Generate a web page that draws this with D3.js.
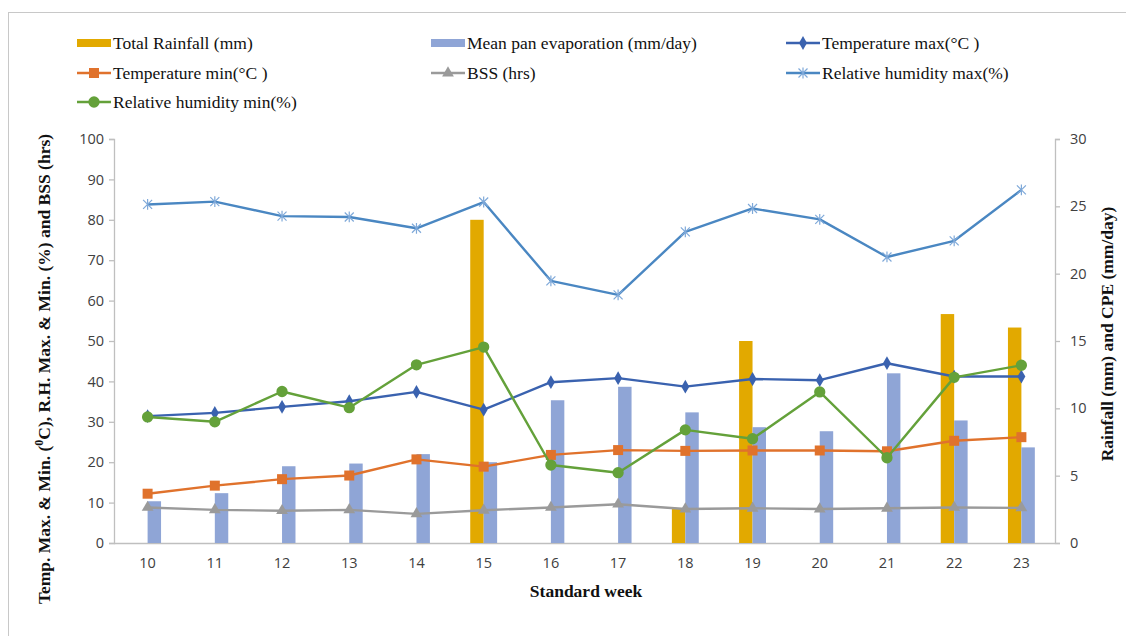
<!DOCTYPE html>
<html>
<head>
<meta charset="utf-8">
<script src="https://cdn.jsdelivr.net/npm/d3@7"></script>
<style>
  html, body { margin: 0; padding: 0; background: #fff; }
  svg { display: block; }
</style>
</head>
<body>
<svg id="chart" width="1126" height="636"></svg>
<script>
// Standard weeks on the category axis
const weeks = [10, 11, 12, 13, 14, 15, 16, 17, 18, 19, 20, 21, 22, 23];

// Secondary axis series (bars)
const rainfall    = [0, 0, 0, 0, 0, 24.0, 0, 0, 2.6, 15.0, 0, 0, 17.0, 16.0];
const evaporation = [3.1, 3.7, 5.7, 5.9, 6.6, 6.0, 10.6, 11.6, 9.7, 8.6, 8.3, 12.6, 9.1, 7.1];

// Primary axis series (lines)
const tempMax = [31.4, 32.2, 33.7, 35.1, 37.4, 33.0, 39.8, 40.8, 38.7, 40.6, 40.3, 44.5, 41.2, 41.2];
const tempMin = [12.2, 14.2, 15.8, 16.7, 20.7, 18.9, 21.8, 23.0, 22.8, 22.9, 22.9, 22.7, 25.3, 26.2];
const bss     = [8.8, 8.2, 8.0, 8.2, 7.2, 8.1, 8.8, 9.6, 8.4, 8.6, 8.4, 8.6, 8.8, 8.7];
const rhMax   = [83.8, 84.5, 80.9, 80.7, 77.9, 84.4, 64.9, 61.4, 77.0, 82.8, 80.1, 70.8, 74.8, 87.4];
const rhMin   = [31.2, 30.0, 37.5, 33.5, 44.1, 48.5, 19.3, 17.4, 28.0, 25.8, 37.4, 21.1, 41.0, 44.0];

const leftTicks  = [0, 10, 20, 30, 40, 50, 60, 70, 80, 90, 100];
const rightTicks = [0, 5, 10, 15, 20, 25, 30];

const svg = d3.select("#chart");

const plot = { left: 114, right: 1055, top: 139, bottom: 543 };

const x = d3.scaleBand().domain(weeks).range([plot.left, plot.right]).paddingInner(0).paddingOuter(0);
const yL = d3.scaleLinear().domain([0, 100]).range([plot.bottom, plot.top]);
const yR = d3.scaleLinear().domain([0, 30]).range([plot.bottom, plot.top]);
const cx = w => x(w) + x.bandwidth() / 2;

const barW = x.bandwidth() * 0.2;
const sub = d3.scaleBand().domain(["rain", "evap"]).range([-barW, barW]);

const colors = {
  rain: "#E2A900",
  evap: "#8FA5D6",
  tmax: "#3A62AF",
  tmin: "#E0722C",
  bss:  "#9A9A9A",
  rhmax: "#4A87C2",
  rhmin: "#64A13A"
};

// Outer chart frame
svg.append("rect")
  .attr("x", 8.5).attr("y", 12.5)
  .attr("width", 1140).attr("height", 640)
  .attr("fill", "none").attr("stroke", "#c8c8c8").attr("stroke-width", 1);

const tickFont = "'Open Sans', 'Noto Sans', sans-serif";
const serif = "'Liberation Serif', 'Times New Roman', serif";

// Left axis
const axisL = svg.append("g").attr("transform", `translate(${plot.left},0)`)
  .call(d3.axisLeft(yL).tickValues(leftTicks).tickSize(5).tickPadding(5));
// Right axis
const axisR = svg.append("g").attr("transform", `translate(${plot.right},0)`)
  .call(d3.axisRight(yR).tickValues(rightTicks).tickSize(5).tickPadding(10));
// Category axis
const axisB = svg.append("g").attr("transform", `translate(0,${plot.bottom})`)
  .call(d3.axisBottom(x).tickSize(0).tickPadding(15));

[axisL, axisR, axisB].forEach(a => {
  a.select(".domain").attr("stroke", "#bfbfbf").attr("stroke-width", 1.3);
  a.selectAll(".tick line").attr("stroke", "#bfbfbf").attr("stroke-width", 1.3);
  a.selectAll(".tick text").attr("fill", "#404040")
    .style("font-family", tickFont).style("font-size", "14.5px");
});
axisB.select(".domain").attr("d", `M${plot.left},0.5H${plot.right}`);

// Bars on the secondary axis
const barGroup = svg.append("g");
barGroup.selectAll("rect.rain").data(weeks).join("rect")
  .attr("class", "rain")
  .attr("x", (w) => cx(w) + sub("rain"))
  .attr("width", sub.bandwidth())
  .attr("y", (w, i) => yR(rainfall[i]))
  .attr("height", (w, i) => yR(0) - yR(rainfall[i]))
  .attr("fill", colors.rain);
barGroup.selectAll("rect.evap").data(weeks).join("rect")
  .attr("class", "evap")
  .attr("x", (w) => cx(w) + sub("evap"))
  .attr("width", sub.bandwidth())
  .attr("y", (w, i) => yR(evaporation[i]))
  .attr("height", (w, i) => yR(0) - yR(evaporation[i]))
  .attr("fill", colors.evap);

// Marker drawing helpers
function asteriskPath(s) {
  return `M${-s},${-s}L${s},${s}M${-s},${s}L${s},${-s}M0,${-s * 1.2}L0,${s * 1.2}`;
}
function drawMarker(g, type, color) {
  if (type === "star") {
    g.append("path").attr("d", asteriskPath(4.5))
      .attr("fill", "none").attr("stroke", "#7FA9D9").attr("stroke-width", 1.2);
    return;
  }
  const spec = {
    diamond: [d3.symbolDiamond, 55],
    square: [d3.symbolSquare, 100],
    triangle: [d3.symbolTriangle, 60],
    circle: [d3.symbolCircle, 100]
  }[type];
  g.append("path").attr("d", d3.symbol(spec[0], spec[1])()).attr("fill", color);
}

const lineSeries = [
  { name: "Temperature max(°C )", values: tempMax, color: colors.tmax, marker: "diamond" },
  { name: "Temperature min(°C )", values: tempMin, color: colors.tmin, marker: "square" },
  { name: "BSS (hrs)", values: bss, color: colors.bss, marker: "triangle" },
  { name: "Relative humidity max(%)", values: rhMax, color: colors.rhmax, marker: "star" },
  { name: "Relative humidity min(%)", values: rhMin, color: colors.rhmin, marker: "circle" }
];

const line = d3.line().x(d => cx(d.w)).y(d => yL(d.v));

lineSeries.forEach(s => {
  const pts = weeks.map((w, i) => ({ w, v: s.values[i] }));
  const g = svg.append("g");
  g.append("path").datum(pts).attr("d", line)
    .attr("fill", "none").attr("stroke", s.color).attr("stroke-width", 2.4)
    .attr("stroke-linejoin", "round");
  pts.forEach(p => {
    const m = g.append("g").attr("transform", `translate(${cx(p.w)},${yL(p.v)})`);
    drawMarker(m, s.marker, s.color);
  });
});

// Legend
const legendItems = [
  { name: "Total Rainfall (mm)", type: "bar", color: colors.rain, col: 0, row: 0 },
  { name: "Mean pan evaporation (mm/day)", type: "bar", color: colors.evap, col: 1, row: 0 },
  { name: lineSeries[0].name, type: "line", s: lineSeries[0], col: 2, row: 0 },
  { name: lineSeries[1].name, type: "line", s: lineSeries[1], col: 0, row: 1 },
  { name: lineSeries[2].name, type: "line", s: lineSeries[2], col: 1, row: 1 },
  { name: lineSeries[3].name, type: "line", s: lineSeries[3], col: 2, row: 1 },
  { name: lineSeries[4].name, type: "line", s: lineSeries[4], col: 0, row: 2 }
];
const colX = [77, 431, 786];
const rowY = [43, 73, 102];
const legend = svg.append("g");
legendItems.forEach(it => {
  const g = legend.append("g").attr("transform", `translate(${colX[it.col]},${rowY[it.row]})`);
  if (it.type === "bar") {
    g.append("rect").attr("x", 0).attr("y", -4).attr("width", 34).attr("height", 8).attr("fill", it.color);
  } else {
    g.append("line").attr("x1", 0).attr("x2", 34).attr("y1", 0).attr("y2", 0)
      .attr("stroke", it.s.color).attr("stroke-width", 2.4);
    const m = g.append("g").attr("transform", "translate(17,0)");
    drawMarker(m, it.s.marker, it.s.color);
  }
  g.append("text").attr("x", 36).attr("y", 0).attr("dy", "0.35em")
    .style("font-family", serif).style("font-size", "17.5px").attr("fill", "#111")
    .text(it.name);
});

// Axis titles
const leftTitle = svg.append("text")
  .attr("transform", "translate(50,369) rotate(-90)")
  .attr("text-anchor", "middle")
  .style("font-family", serif).style("font-size", "17.5px").style("font-weight", "bold")
  .attr("fill", "#111");
leftTitle.append("tspan").text("Temp. Max. & Min. (");
leftTitle.append("tspan").attr("baseline-shift", "super").style("font-size", "12px").text("0");
leftTitle.append("tspan").text("C), R.H. Max. & Min. (%) and BSS (hrs)");

svg.append("text")
  .attr("transform", "translate(1113,334) rotate(-90)")
  .attr("text-anchor", "middle")
  .style("font-family", serif).style("font-size", "17.5px").style("font-weight", "bold")
  .attr("fill", "#111")
  .text("Rainfall (mm) and CPE (mm/day)");

svg.append("text")
  .attr("x", 586).attr("y", 597)
  .attr("text-anchor", "middle")
  .style("font-family", serif).style("font-size", "17.5px").style("font-weight", "bold")
  .attr("fill", "#111")
  .text("Standard week");
</script>
</body>
</html>
